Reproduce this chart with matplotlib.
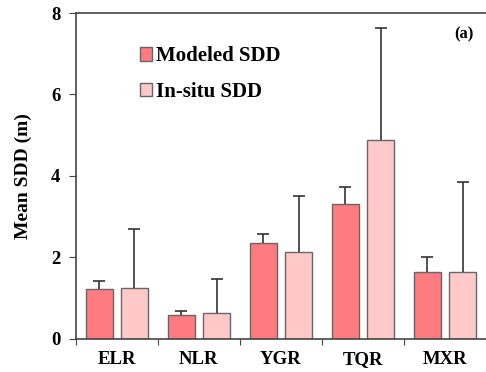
import numpy as np
import matplotlib.pyplot as plt

plt.rcParams['font.family'] = ['Liberation Serif', 'DejaVu Serif']
plt.rcParams['font.weight'] = 'bold'

regions = ['ELR', 'NLR', 'YGR', 'TQR', 'MXR']
modeled = [1.23, 0.59, 2.36, 3.31, 1.64]
modeled_sd = [0.19, 0.10, 0.22, 0.42, 0.37]
insitu = [1.25, 0.64, 2.13, 4.88, 1.64]
insitu_sd = [1.45, 0.83, 1.37, 2.74, 2.21]

fig = plt.figure(figsize=(4.86, 3.72), dpi=100)
ax = fig.add_axes([0.156, 0.089, 0.844, 0.876])

x = np.arange(len(regions))
w = 0.33
err_kw = dict(ecolor='#333333', elinewidth=1.2, capsize=4, capthick=1.2)
b1 = ax.bar(x - 0.215, modeled, w, yerr=[np.zeros(5), modeled_sd], color='#ff7b80',
            edgecolor='#666666', linewidth=1, error_kw=err_kw, label='Modeled SDD')
b2 = ax.bar(x + 0.215, insitu, w, yerr=[np.zeros(5), insitu_sd], color='#ffc9c9',
            edgecolor='#666666', linewidth=1, error_kw=err_kw, label='In-situ SDD')
# only upper caps
for b in (b1, b2):
    b.errorbar.lines[1][0].set_visible(False)

ax.set_xlim(-0.5, 4.5)
ax.set_ylim(0, 8)
ax.set_yticks([0, 2, 4, 6, 8])
ax.set_xticks(np.arange(-0.5, 5, 1))
ax.set_xticklabels([])
ax.set_xticks(x, minor=True)
ax.set_xticklabels(regions, minor=True)
ax.tick_params(axis='x', which='minor', length=0, pad=9, labelsize=13.5)
ax.tick_params(axis='x', which='major', length=4, direction='out', color='#444444')
ax.tick_params(axis='y', length=5, labelsize=13.5, pad=6, color='#444444')
ax.set_ylabel('Mean SDD (m)', fontsize=14, fontweight='bold', labelpad=14)

for s in ['top', 'left', 'bottom']:
    ax.spines[s].set_color('#444444')
    ax.spines[s].set_linewidth(1.2)
ax.spines['right'].set_visible(False)

ax.text(0.97, 0.96, '(a)', transform=ax.transAxes, ha='right', va='top', fontsize=12)
ax.legend(loc='upper left', bbox_to_anchor=(0.11, 0.955), frameon=False, fontsize=15,
          handlelength=0.6, handleheight=0.6, handletextpad=0.2, labelspacing=0.75)

fig.savefig('out.png', dpi=100)
